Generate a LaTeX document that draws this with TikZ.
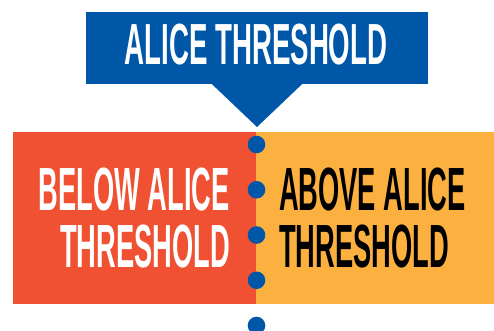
\documentclass[tikz,border=0pt]{standalone}
\usepackage{fontspec}
\usetikzlibrary{positioning}
\newfontfamily\headfont[FakeStretch=0.477]{Liberation Sans}
\newfontfamily\sidefont[FakeStretch=0.447]{Liberation Sans}
\definecolor{thblue}{RGB}{0,87,168}
\definecolor{thred}{RGB}{240,81,51}
\definecolor{thorange}{RGB}{252,176,64}
\tikzset{
  panel/.style={inner sep=0pt, minimum height=172pt},
  sidetext/.style={inner sep=0pt, font=\sidefont\bfseries\fontsize{61}{57}\selectfont}
}

\begin{document}
\begin{tikzpicture}[x=1pt, y=-1pt]
  \useasboundingbox (0,0) rectangle (494,331);
  % heading with pointer
  \node[fill=thblue, inner sep=0pt, minimum width=342pt, minimum height=72pt] (head) at (257,48) {};
  \fill[thblue] ([xshift=-45pt]head.south) -- ([xshift=45pt]head.south) -- (257,127) -- cycle;
  \node[inner sep=0pt, text=white, font=\headfont\bfseries\fontsize{58}{58}\selectfont] (headtext) at (256,45) {ALICE THRESHOLD};
  % two sides
  \node[panel, fill=thred, minimum width=243pt] (below) at (134.5,218) {};
  \node[panel, fill=thorange, minimum width=238pt, right=0pt of below] (above) {};
  \node[sidetext, text=white, align=right, anchor=east] (belowtext) at (230,217.5) {BELOW ALICE\\THRESHOLD};
  \node[sidetext, text=black, align=left, anchor=west] (abovetext) at (279,217.5) {ABOVE ALICE\\THRESHOLD};
  % dots on the divide
  \foreach \i in {0,...,4}
    \fill[thblue] (256.5,144.5+45.25*\i) circle (8.8pt);
\end{tikzpicture}
\end{document}
